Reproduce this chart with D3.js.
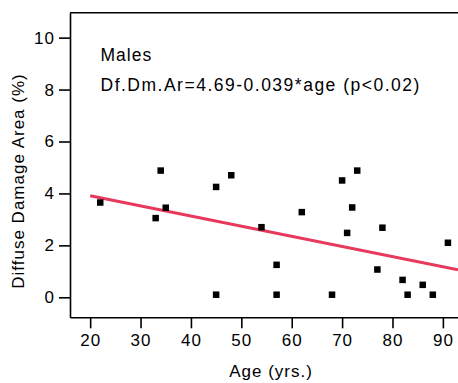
<!DOCTYPE html>
<html>
<head>
<meta charset="utf-8">
<script src="https://cdn.jsdelivr.net/npm/d3@7/dist/d3.min.js"></script>
<style>
  body { margin: 0; background: #fff; }
  text { font-family: "Liberation Sans", Arial, sans-serif; fill: #000; }
</style>
</head>
<body>
<svg id="stage" width="458" height="383"></svg>
<script>
var ages = [22, 33, 34, 35, 45, 45, 48, 54, 57, 57, 62, 68, 70, 71, 72, 73, 77, 78, 82, 83, 86, 88, 91],
    damage = [3.65, 3.05, 4.88, 3.45, 4.25, 0.1, 4.7, 2.7, 1.25, 0.1, 3.28, 0.1, 4.5, 2.48, 3.46, 4.88, 1.07, 2.68, 0.67, 0.1, 0.48, 0.1, 2.1],
    xTicks = [20, 30, 40, 50, 60, 70, 80, 90],
    yTicks = [0, 2, 4, 6, 8, 10],
    fitIntercept = 4.69,
    fitSlope = -0.039,
    fitRange = [20, 93];

var svg = d3.select('#stage'),
    LEFT = 70,
    RIGHT = 458,
    TOP = 12.7,
    BOTTOM = 317.3;

var x = d3.scaleLinear().domain([16, 93]).range([LEFT, RIGHT]),
    y = d3.scaleLinear().domain([-0.77, 10.96]).range([BOTTOM, TOP]);

function styleAxis(g) {
  g.selectAll('path, line').attr('stroke', '#000').attr('stroke-width', 1.6);
  g.selectAll('text')
    .style('font-size', '17px')
    .style('letter-spacing', '1px')
    .attr('fill', '#000');
}

svg.append('g')
  .attr('transform', 'translate(' + LEFT + ',0)')
  .call(d3.axisLeft(y).tickValues(yTicks).tickSize(11).tickSizeOuter(0).tickPadding(4))
  .call(styleAxis);

svg.append('g')
  .attr('transform', 'translate(0,' + BOTTOM + ')')
  .call(d3.axisBottom(x).tickValues(xTicks).tickSize(11).tickSizeOuter(0).tickPadding(6))
  .call(styleAxis);

// top frame line, no right spine
svg.append('line')
  .attr('x1', LEFT).attr('x2', RIGHT)
  .attr('y1', TOP).attr('y2', TOP)
  .attr('stroke', '#000').attr('stroke-width', 1.6);

// regression line
svg.append('line')
  .attr('x1', x(fitRange[0])).attr('y1', y(fitIntercept + fitSlope * fitRange[0]))
  .attr('x2', x(fitRange[1])).attr('y2', y(fitIntercept + fitSlope * fitRange[1]))
  .attr('stroke', '#e8395d').attr('stroke-width', 3);

var SIZE = 6.5;
svg.append('g').selectAll('rect')
  .data(ages)
  .enter().append('rect')
  .attr('x', function (d) { return x(d) - SIZE / 2; })
  .attr('y', function (d, i) { return y(damage[i]) - SIZE / 2; })
  .attr('width', SIZE)
  .attr('height', SIZE)
  .attr('fill', '#000');

svg.append('text')
  .attr('x', 100.5).attr('y', 61)
  .style('font-size', '17.5px').style('letter-spacing', '1px')
  .text('Males');

svg.append('text')
  .attr('x', 100.5).attr('y', 90.5)
  .style('font-size', '17.5px').style('letter-spacing', '1.5px')
  .text('Df.Dm.Ar=4.69-0.039*age (p<0.02)');

svg.append('text')
  .attr('x', 271).attr('y', 377)
  .attr('text-anchor', 'middle')
  .style('font-size', '17px').style('letter-spacing', '1px')
  .text('Age (yrs.)');

svg.append('text')
  .attr('transform', 'translate(24,181) rotate(-90)')
  .attr('text-anchor', 'middle')
  .style('font-size', '17px').style('letter-spacing', '1px')
  .text('Diffuse Damage Area (%)');
</script>
</body>
</html>
